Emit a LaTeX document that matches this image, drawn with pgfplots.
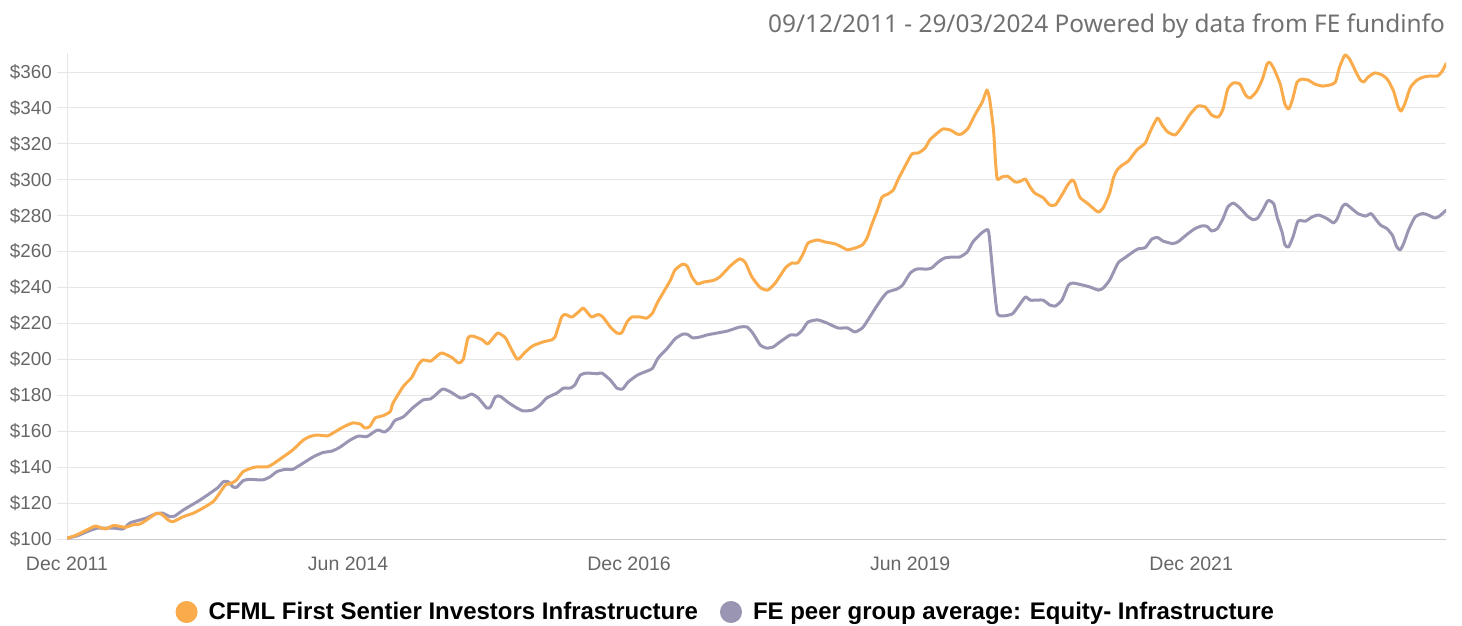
\documentclass[border=0pt]{standalone}
\usepackage{fontspec}
\setmainfont{Liberation Sans}
\newfontfamily\titlefont{Noto Sans}
\usepackage{pgfplots}
\pgfplotsset{compat=1.18}
\definecolor{cforange}{RGB}{250,172,77}
\definecolor{cfpurple}{RGB}{154,149,178}
\definecolor{gridgray}{RGB}{230,230,230}
\definecolor{axisgray}{RGB}{204,204,204}
\definecolor{labelgray}{RGB}{102,102,102}
\definecolor{titlegray}{RGB}{112,112,112}
\begin{document}
\begin{tikzpicture}[x=1pt,y=1pt]
\path[use as bounding box] (0,0) rectangle (1462,625);
\begin{axis}[
  at={(67pt,86pt)}, anchor=south west, scale only axis,
  width=1379pt, height=486pt,
  xmin=0, xmax=147.2, ymin=100, ymax=370.6,
  axis x line*=bottom, axis y line*=left,
  x axis line style={color=axisgray, line width=1pt, -},
  y axis line style={color=gridgray, line width=1pt, -},
  ytick={100,120,...,360},
  yticklabels={\$100,\$120,\$140,\$160,\$180,\$200,\$220,\$240,\$260,\$280,\$300,\$320,\$340,\$360},
  xtick={0,30,60,90,120},
  xticklabels={Dec 2011,Jun 2014,Dec 2016,Jun 2019,Dec 2021},
  ymajorgrids, major grid style={color=gridgray, line width=1pt},
  tick align=outside, major tick length=10pt,
  ytick style={color=gridgray, line width=1pt},
  xtick style={draw=none},
  yticklabel style={font=\fontsize{18.8}{22}\selectfont, text=labelgray, anchor=east, inner sep=0pt, xshift=-5pt},
  xticklabel style={font=\fontsize{19.5}{22}\selectfont, text=labelgray, anchor=base, inner sep=0pt, yshift=-21pt},
  legend columns=2, reverse legend,
  legend cell align=left,
  legend style={draw=none, fill=none, at={(0.477,0)}, anchor=center, yshift=-73pt,
    font=\fontsize{24}{28}\bfseries\selectfont, text=black,
    nodes={inner sep=0pt},
    /tikz/every odd column/.append style={column sep=11pt},
    /tikz/every even column/.append style={column sep=22pt}},
  legend image code/.code={\fill[#1] (9.5pt,0pt) circle (9.5pt);},
  every axis plot/.append style={line width=3pt, line join=round, line cap=round, smooth, tension=0.35},
]
\addplot[color=cfpurple] coordinates {
(0,100.4)(1.1,101.8)(2.1,104)(3.2,106)(4.3,106)(5.1,106)(6.0,105.6)(6.7,108.9)(7.5,110.2)(8.5,111.7)(9.4,113.9)(10.2,114.4)(11.0,112.4)(11.5,112.8)(12.4,116.1)(13.3,118.9)(14.2,121.7)(15.3,125.6)(16.1,128.6)(16.7,131.9)(17.2,131.9)(17.7,129.1)(18.1,128.8)(18.8,132.5)(19.5,133.2)(20.9,132.9)(21.7,134.7)(22.4,137.5)(23.3,138.8)(24.1,138.8)(25.2,142.2)(26.3,145.8)(27.3,148.1)(28.3,149)(29.1,151)(30.2,155)(31.1,157.3)(32.0,157)(32.7,159.4)(33.2,160.7)(33.9,159.6)(34.5,162)(35.0,166)(35.9,168)(36.9,173)(38.0,177.4)(38.8,178)(39.3,180)(40.1,183.5)(40.9,182)(42.0,178.5)(42.5,179)(43.2,180.7)(43.9,178.5)(44.8,173)(45.2,173.5)(45.7,179)(46.2,179.6)(47.1,176)(48.0,173)(48.7,171.3)(49.7,171.8)(50.5,174.6)(51.2,178.5)(52.3,181.3)(53.0,184)(53.7,184)(54.2,185.7)(54.8,191.3)(55.5,192.4)(56.6,192)(57.1,192.4)(58.0,188.5)(58.7,184)(59.3,183.5)(59.9,187.4)(60.9,191.3)(61.9,193.5)(62.5,195)(63.1,200.8)(64.1,206.3)(64.9,211.4)(65.7,214)(66.2,214)(66.8,212)(67.6,212.5)(68.3,213.6)(69.4,214.7)(70.5,215.8)(71.8,218)(72.6,218)(73.2,214.7)(74.0,208)(74.7,206.3)(75.4,207)(76.1,209.7)(77.2,213.6)(77.9,213.6)(78.5,216.4)(79.1,220.8)(80.1,222)(81.1,220.3)(82.3,217.5)(83.3,217.5)(84.1,215.3)(84.9,217.5)(85.5,222)(86.3,228.6)(87.0,234)(87.6,237.5)(88.6,239.2)(89.2,241.4)(90.0,248)(90.7,250.3)(91.8,250.3)(92.3,250.9)(93.0,254.2)(93.7,256.5)(94.6,257)(95.3,257)(96.1,259.8)(96.7,265.4)(97.5,269.8)(98.1,272)(98.4,270.5)(98.9,244)(99.3,225.8)(99.9,224.2)(100.9,225.3)(101.5,229.2)(102.3,234.7)(102.8,233)(103.6,233)(104.2,233)(104.9,230.3)(105.5,229.7)(106.2,233)(106.9,241.4)(107.4,242.5)(108.4,241.4)(109.2,240.3)(110.1,238.6)(110.6,239.7)(111.3,244.2)(112.2,253.7)(112.9,256.5)(113.7,259.5)(114.3,261.5)(115.1,262.3)(115.8,267)(116.4,267.9)(117.0,265.9)(118.0,264.5)(118.6,265.5)(119.6,269.8)(120.4,272.8)(121.2,274.4)(121.7,274)(122.2,271.5)(122.8,272.8)(123.4,278.4)(123.9,284.8)(124.5,287)(125.2,284.3)(126.0,279.8)(126.6,277.8)(127.1,278.7)(127.7,283.7)(128.2,288.4)(128.8,286.8)(129.2,278.7)(129.7,270.9)(130.0,263.9)(130.4,262.6)(130.9,268.7)(131.4,277)(132.2,277)(132.9,279.3)(133.6,280.4)(134.5,278.4)(135.2,276)(135.6,278.4)(136.1,284.8)(136.5,286.5)(137.2,283.7)(137.8,281.2)(138.6,279.8)(139.2,281.2)(139.6,278.7)(140.2,274.8)(140.9,272.8)(141.5,268.9)(141.9,263.1)(142.3,260.9)(142.7,264.8)(143.2,272)(143.9,279.3)(144.7,281.2)(145.3,280.4)(146.0,278.7)(146.5,279.8)(147.2,283)
};
\addlegendentry{FE peer group average: Equity- Infrastructure}
\addplot[color=cforange] coordinates {
(0,100.4)(1.0,102.2)(2.1,105)(3.0,107.2)(3.5,106.5)(4.1,105.6)(4.9,107.4)(5.4,107.3)(6.2,106.5)(7.0,107.8)(7.8,108.4)(8.5,110.6)(9.6,114.4)(10.2,113.4)(10.8,110.6)(11.3,109.6)(12.4,112.4)(13.5,114.4)(14.5,117.2)(15.6,120.8)(16.3,125.6)(16.9,130)(17.6,131.2)(18.1,132.9)(18.8,137.5)(19.8,139.7)(20.4,140.2)(21.4,140.2)(22.0,141.8)(23.1,145.8)(24.1,149.6)(25.2,155)(25.9,157)(26.7,157.9)(27.8,157.4)(28.4,159)(29.5,162.4)(30.5,164.6)(31.3,164)(31.8,161.8)(32.3,162.5)(32.9,167.4)(33.7,168.6)(34.5,170.9)(34.8,175.7)(35.9,185)(36.8,190)(37.5,197)(38.0,199.7)(38.8,199)(39.3,201)(40.0,203.6)(41.1,201)(41.8,198)(42.3,200)(42.8,212)(43.3,213)(44.3,211)(44.9,208.6)(45.5,212)(46.0,214.7)(46.8,212)(47.5,205)(48.1,200)(48.9,204)(49.7,207.5)(50.8,209.7)(51.8,211)(52.1,212.5)(52.8,223.6)(53.2,225)(53.9,223.6)(54.6,226.4)(55.1,228.6)(55.5,226.4)(56.0,223.6)(56.7,225)(57.2,223.6)(58.0,218)(58.7,214.7)(59.2,214.7)(59.8,221)(60.3,223.6)(61.2,223.6)(61.9,223)(62.5,225.8)(63.0,231.4)(63.8,238.6)(64.4,244)(64.9,249.8)(65.7,253)(66.2,252)(66.7,246)(67.3,242)(67.9,243)(69.0,244)(69.7,246)(70.8,252)(71.8,256)(72.4,254)(73.1,246)(74.0,240)(74.8,238.6)(75.6,242.5)(76.7,251)(77.4,253.7)(78.0,253.7)(78.6,259)(79.1,264.8)(80.1,266.5)(80.9,265.4)(82.0,264.3)(82.7,262.6)(83.3,261)(84.1,262)(84.9,263.7)(85.4,267.6)(85.9,275)(86.5,283)(87.0,290.4)(87.6,292)(88.2,294.3)(88.7,300)(89.5,308)(90.2,314.4)(90.9,315)(91.6,317.7)(92.1,322.2)(92.9,326)(93.5,328.3)(94.3,327.7)(95.0,325.5)(95.5,325.5)(96.2,328.8)(96.9,336)(97.7,343.3)(98.2,350)(98.5,344.4)(98.9,327.7)(99.1,311)(99.3,300.4)(99.8,301.6)(100.4,302)(101.2,298.8)(101.7,299)(102.3,300.4)(102.8,296)(103.3,292.6)(104.2,290)(104.9,286)(105.5,286)(106.2,291.5)(106.8,297)(107.3,300)(107.6,298)(108.1,290.4)(108.9,287)(109.5,284.3)(110.1,282)(110.6,284.3)(111.0,288.7)(111.3,292.6)(111.7,301)(112.1,305.5)(112.6,308)(113.3,310.5)(114.2,316.6)(115.1,320.5)(115.6,326.6)(116.4,334.4)(116.9,330.5)(117.5,326.6)(118.3,325)(119.0,329.4)(119.9,336.6)(120.7,341)(121.5,340.5)(122.2,336)(122.9,335)(123.4,339.4)(123.9,350.5)(124.5,353.9)(125.2,353.3)(125.8,347.2)(126.3,345.5)(127.0,349.4)(127.6,356)(128.1,364.5)(128.4,365.3)(128.8,362.2)(129.5,353.3)(130.0,342.2)(130.4,339.4)(130.8,344.4)(131.3,354.4)(131.8,356)(132.5,355.5)(133.2,353.3)(134.0,352.2)(134.8,352.8)(135.4,354.4)(135.8,362.2)(136.4,369.4)(136.9,367.3)(137.5,361)(138.0,356)(138.4,354.4)(138.9,357.2)(139.6,359.5)(140.4,358.3)(141.0,355.5)(141.6,349.4)(142.1,340.5)(142.4,338.3)(142.8,342.2)(143.4,351.4)(144.1,355.5)(144.8,357.2)(145.5,357.8)(146.3,357.8)(146.8,360.5)(147.2,364.7)
};
\addlegendentry{CFML First Sentier Investors Infrastructure}
\end{axis}
\node[anchor=base east, inner sep=0pt, text=titlegray, font=\titlefont\fontsize{24.4}{28}\selectfont] at (1445,592) {09/12/2011 - 29/03/2024 Powered by data from FE fundinfo};
\end{tikzpicture}
\end{document}
